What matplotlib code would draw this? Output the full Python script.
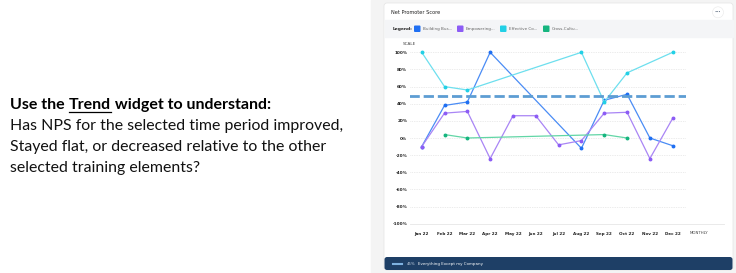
import numpy as np
import matplotlib
matplotlib.use("Agg")
import matplotlib.pyplot as plt
from matplotlib.patches import FancyBboxPatch, Rectangle

W, H = 736, 273

months = ["Jan 22", "Feb 22", "Mar 22", "Apr 22", "May 22", "Jun 22",
          "Jul 22", "Aug 22", "Sep 22", "Oct 22", "Nov 22", "Dec 22"]
nan = np.nan
building = [-10, 38, 42, 100, nan, nan, nan, -12, 44, 51, 0, -9]
empowering = [-10, 29, 31, -24, 26, 26, -8, -3, 29, 30, -24, 23]
effective = [100, 60, 56, nan, nan, nan, nan, 100, 42, 76, nan, 100]
cross = [nan, 4, 0, nan, nan, nan, nan, nan, 4, 0, nan, nan]
target = 49

series_names = ["Building Bus...", "Empowering...", "Effective Co...", "Cross-Cultu..."]
series_values = [building, empowering, effective, cross]
line_colors = ["#4a8cf5", "#a985f5", "#6ddfee", "#62d6a6"]
swatch_colors = ["#1f6ff2", "#8c5cf5", "#22d0e6", "#16b57f"]

y_ticks = [100, 80, 60, 40, 20, 0, -20, -40, -60, -80, -100]

question_lines = [
    "Has NPS for the selected time period improved,",
    "Stayed flat, or decreased relative to the other",
    "selected training elements?",
]

fig = plt.figure(figsize=(W / 100, H / 100), dpi=100)
bg = fig.add_axes([0, 0, 1, 1])
bg.set_xlim(0, W)
bg.set_ylim(H, 0)
bg.axis("off")

# panel background + card
bg.add_patch(Rectangle((371, 0), W - 371, H, color="#f4f4f4", zorder=0))
bg.add_patch(FancyBboxPatch((384, 3), 349, 267, boxstyle="round,pad=0,rounding_size=3",
                            fc="white", ec="#e4e4e4", lw=0.5, zorder=1))
bg.add_patch(Rectangle((384.5, 20), 348, 17, color="#f4f5f7", zorder=2))
bg.add_patch(FancyBboxPatch((384.5, 257), 348, 13, boxstyle="round,pad=0,rounding_size=2.5",
                            fc="#1e3f66", ec="none", zorder=2))

bg.text(391, 12, "Net Promoter Score", fontsize=3.6, color="#222", va="center", zorder=3)
bg.add_patch(plt.Circle((718, 12.3), 5.5, fc="white", ec="#e8e8e8", lw=0.4, zorder=3))
bg.text(718, 12.6, "•••", fontsize=2.6, color="#2a3f5a", ha="center", va="center", zorder=4)

bg.text(393, 29, "Legend:", fontsize=3.2, fontweight="bold", color="#222", va="center", zorder=3)
leg_x = [414, 457, 500, 543]
for x0, name, c in zip(leg_x, series_names, swatch_colors):
    bg.add_patch(FancyBboxPatch((x0, 25.5), 6.5, 6.5, boxstyle="round,pad=0,rounding_size=1",
                                fc=c, ec="none", zorder=3))
    bg.text(x0 + 9, 29, name, fontsize=3.0, color="#666", va="center", zorder=3)

bg.text(409, 44, "SCALE", fontsize=3.0, color="#444", ha="center", va="center", zorder=3)
bg.text(699, 233, "MONTHLY", fontsize=2.8, color="#444", ha="center", va="center", zorder=3)
bg.plot([410, 724], [224, 224], color="#e6e6e6", lw=0.6, zorder=3)

# bottom bar content
bg.plot([393, 402], [264, 264], color="#7fb2e0", lw=1.5, zorder=4)
bg.text(407, 264, "45%", fontsize=2.8, color="#c8d4e4", va="center", zorder=4)
bg.text(418, 264, "Everything Except my Company", fontsize=2.9, color="white", va="center", zorder=4)

# left question text
t1 = bg.text(10, 109, "Use the ", fontsize=11.5, fontweight="bold", family="Lato",
             va="baseline", color="black")
fig.canvas.draw()
r = fig.canvas.get_renderer()
inv = bg.transData.inverted()
e = t1.get_window_extent(r)
x_trend = inv.transform((e.x1, e.y0))[0]
t2 = bg.text(x_trend, 109, "Trend", fontsize=11.5, fontweight="bold", family="Lato",
             va="baseline", color="black")
e2 = t2.get_window_extent(r)
x_end = inv.transform((e2.x1, e2.y0))[0]
bg.plot([x_trend, x_end], [111.5, 111.5], color="black", lw=0.9)
bg.text(x_end, 109, " widget to understand:", fontsize=11.5, fontweight="bold", family="Lato",
        va="baseline", color="black")
for i, line in enumerate(question_lines):
    bg.text(10, 130 + 21 * i, line, fontsize=11.4, family="Lato", va="baseline", color="#111")

# chart axes
left, right, top, bottom = 410, 686, 52.3, 223.7
ax = fig.add_axes([left / W, 1 - bottom / H, (right - left) / W, (bottom - top) / H])
ax.patch.set_alpha(0)
ax.set_xlim(-0.513, 11.583)
ax.set_ylim(-100, 100)
for s in ax.spines.values():
    s.set_visible(False)
ax.set_yticks(y_ticks)
ax.set_yticklabels([f"{v}%" for v in y_ticks])
ax.set_xticks(range(len(months)))
ax.set_xticklabels(months)
ax.tick_params(length=0, labelsize=3.0, labelcolor="#222")
ax.tick_params(axis="y", pad=2)
ax.tick_params(axis="x", pad=6)
for lab in ax.get_xticklabels() + ax.get_yticklabels():
    lab.set_fontweight("bold")
ax.grid(axis="y", color="#d9d9d9", lw=0.5, ls=(0, (1, 1.5)))
ax.set_axisbelow(True)

idx = np.arange(len(months))
for vals, c, mc in zip(series_values, line_colors, swatch_colors):
    v = np.array(vals, dtype=float)
    m = ~np.isnan(v)
    ax.plot(idx[m], v[m], color=c, lw=0.9, marker="o", ms=1.8, mfc=mc, mec=mc,
            clip_on=False, zorder=3)

ax.axhline(target, color="#5d9dd3", lw=2.0, ls=(0, (3.7, 1.4)), zorder=4,
           xmin=-0.005, xmax=1.0)

fig.savefig("out.png", dpi=100)
